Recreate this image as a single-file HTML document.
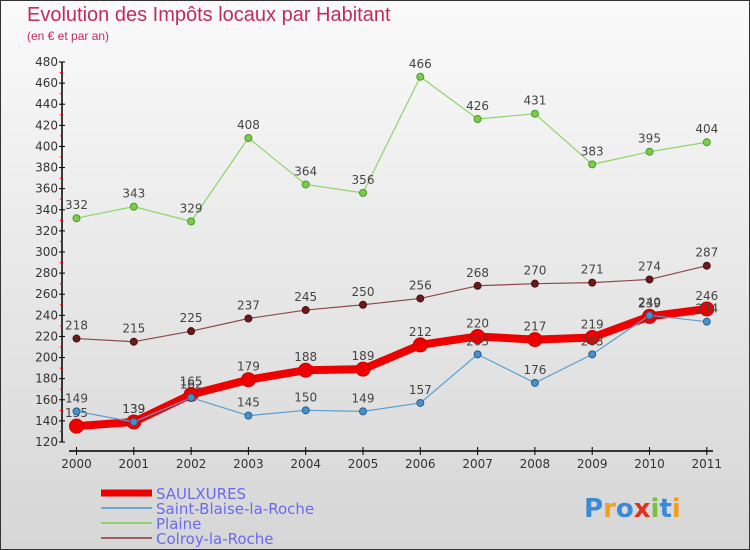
<!DOCTYPE html>
<html><head><meta charset="utf-8"><style>
body{margin:0}
#c{position:relative;width:750px;height:550px;box-sizing:border-box;border:1px solid #333;background:linear-gradient(#fafafa,#d6d6d6);font-family:"DejaVu Sans","Liberation Sans",sans-serif;overflow:hidden}
.t{position:absolute;left:26px;top:3px;font-size:20px;color:#c02c5e;font-family:"Liberation Sans",sans-serif}
.s{position:absolute;left:26px;top:28px;font-size:12px;color:#c02c5e;font-family:"Liberation Sans",sans-serif}
</style></head><body>
<div id="c">
<div class="t">Evolution des Impôts locaux par Habitant</div>
<div class="s">(en € et par an)</div>
<svg id="svg" width="750" height="550" style="position:absolute;left:0;top:0"></svg>
</div>
<script>
const years=["2000","2001","2002","2003","2004","2005","2006","2007","2008","2009","2010","2011"];
const saulxures=[135,139,165,179,188,189,212,220,217,219,239,246];
const saintBlaise=[149,139,162,145,150,149,157,203,176,203,240,234];
const plaine=[332,343,329,408,364,356,466,426,431,383,395,404];
const colroy=[218,215,225,237,245,250,256,268,270,271,274,287];
const yTicks=[120,140,160,180,200,220,240,260,280,300,320,340,360,380,400,420,440,460,480];
const NS="http://www.w3.org/2000/svg";
const svg=document.getElementById('svg');
const X=i=>75.5+i*57.3;
const Y=v=>441-(v-120)*380/360;
function mk(t,a,p){const e=document.createElementNS(NS,t);for(const k in a)e.setAttribute(k,a[k]);(p||svg).appendChild(e);return e;}
let ax=mk('g',{});


mk('line',{x1:61,y1:Y(480),x2:61,y2:Y(120),stroke:'#000','stroke-width':1.5},ax);
mk('line',{x1:68,y1:450,x2:712,y2:450,stroke:'#000','stroke-width':1.5},ax);
yTicks.forEach(v=>{
 mk('line',{x1:58,y1:Y(v),x2:64,y2:Y(v),stroke:'#000'},ax);
 if(v<480) mk('line',{x1:59,y1:Y(v+10),x2:62,y2:Y(v+10),stroke:'#e00'},ax);
 const t=mk('text',{x:57,y:Y(v)+4,'text-anchor':'end','font-size':12,fill:'#333'},ax);t.textContent=v;
 
 
});
years.forEach((y,i)=>{
 mk('line',{x1:X(i),y1:446,x2:X(i),y2:454,stroke:'#000'},ax);
 const t=mk('text',{x:X(i),y:467,'text-anchor':'middle','font-size':12,fill:'#333'},ax);t.textContent=y;
 
 
});
function series(name,d,color,w,r,dot,fill){
 const g=mk('g',{});
 
 
 mk('polyline',{points:d.map((v,i)=>X(i)+','+Y(v)).join(' '),fill:'none',stroke:color,'stroke-width':w,'stroke-linejoin':'round'},g);
 d.forEach((v,i)=>{
  const c=mk('circle',{cx:X(i),cy:Y(v),r:r,fill:fill,stroke:dot,'stroke-width':1},g);
  
  
  const t=mk('text',{x:X(i),y:Y(v)-9,'text-anchor':'middle','font-size':12,fill:'#444'},g);t.textContent=v;
  
  
 });
}
series('plaine-series',plaine,'#8fd46a',1.2,3.5,'#4a9a2a','#7ccc4a');
series('colroy-series',colroy,'#8a4a4a',1.2,3.5,'#4a1010','#6a1a1a');
series('saulxures-series',saulxures,'#ee0000',8,7,'#c00','#ee0000');
series('saint-blaise-series',saintBlaise,'#5a9fd0',1.2,3.5,'#2a6090','#4a90c8');
const L=[['SAULXURES','#ee0000',7],['Saint-Blaise-la-Roche','#6aa8d8',2],['Plaine','#90d070',2],['Colroy-la-Roche','#9a6060',2]];
L.forEach((l,i)=>{
 const g=mk('g',{});
 
 
 const y=492+i*15;
 mk('line',{x1:100,y1:y,x2:151,y2:y,stroke:l[1],'stroke-width':l[2]},g);
 const t=mk('text',{x:155,y:y+6,'font-size':15,fill:'#6a6af0'},g);t.textContent=l[0];
});
const lg=mk('text',{x:583,y:516,'font-size':26,'font-weight':'bold'});


[['P','#3a8ad8'],['r','#f0a020'],['o','#3a8ad8'],['x','#e03020'],['i','#7ac040'],['t','#3a8ad8'],['i','#f0a020']].forEach(c=>{const s=mk('tspan',{fill:c[1]},lg);s.textContent=c[0];});
</script>
</body></html>
